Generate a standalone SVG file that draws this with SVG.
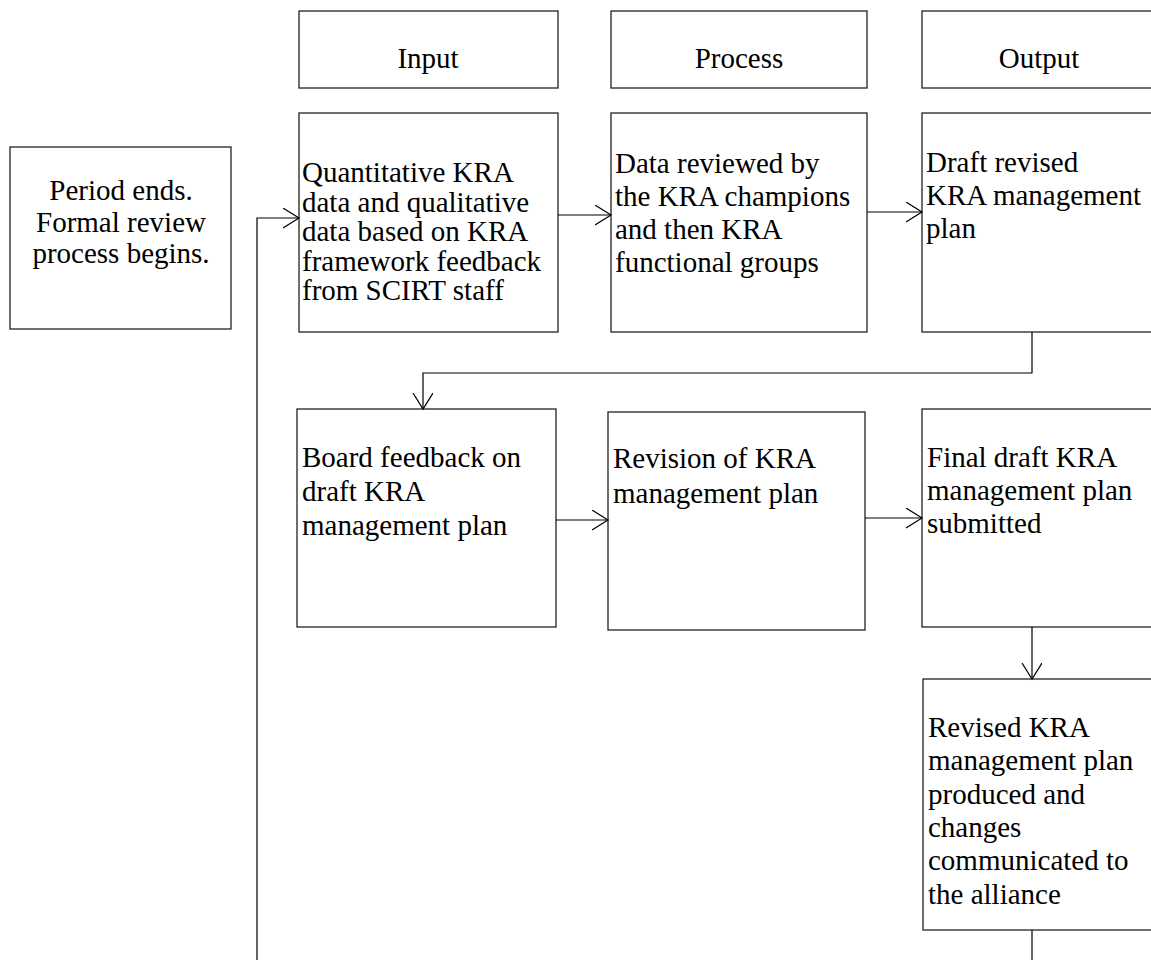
<svg xmlns="http://www.w3.org/2000/svg" width="1151" height="960" viewBox="0 0 1151 960">
  <style>
    .box { fill: #fff; stroke: #222; stroke-width: 1.3; }
    .lbl { font-family: "Liberation Serif", "Times New Roman", serif; font-size: 29px; fill: #000; }
    .mid { text-anchor: middle; }
    .wire { fill: none; stroke: #000; stroke-width: 1.2; }
  </style>
  <defs>
    <marker id="open" markerWidth="18" markerHeight="22" refX="16" refY="10" orient="auto" markerUnits="userSpaceOnUse">
      <path d="M0,0 L16,10 L0,20" fill="none" stroke="#000" stroke-width="1.2"/>
    </marker>
  </defs>

  <!-- column headers -->
  <g id="hdr-input">
    <rect class="box" x="299" y="11" width="259" height="77"/>
    <text class="lbl mid" x="428" y="68">Input</text>
  </g>
  <g id="hdr-process">
    <rect class="box" x="611" y="11" width="256" height="77"/>
    <text class="lbl mid" x="739" y="68">Process</text>
  </g>
  <g id="hdr-output">
    <rect class="box" x="922" y="11" width="234" height="77"/>
    <text class="lbl mid" x="1039" y="68">Output</text>
  </g>

  <!-- start -->
  <g id="period-ends">
    <rect class="box" x="10" y="147" width="221" height="182"/>
    <text class="lbl mid" x="121" y="200">Period ends.</text>
    <text class="lbl mid" x="121" y="232">Formal review</text>
    <text class="lbl mid" x="121" y="263">process begins.</text>
  </g>

  <!-- row 1 -->
  <g id="kra-data">
    <rect class="box" x="299" y="113" width="259" height="219"/>
    <text class="lbl" x="302" y="182">Quantitative KRA</text>
    <text class="lbl" x="302" y="211.5">data and qualitative</text>
    <text class="lbl" x="302" y="241">data based on KRA</text>
    <text class="lbl" x="302" y="270.5">framework feedback</text>
    <text class="lbl" x="302" y="300">from SCIRT staff</text>
  </g>
  <g id="data-reviewed">
    <rect class="box" x="611" y="113" width="256" height="219"/>
    <text class="lbl" x="615" y="173">Data reviewed by</text>
    <text class="lbl" x="615" y="206">the KRA champions</text>
    <text class="lbl" x="615" y="239">and then KRA</text>
    <text class="lbl" x="615" y="272">functional groups</text>
  </g>
  <g id="draft-revised">
    <rect class="box" x="922" y="113" width="240" height="219"/>
    <text class="lbl" x="926" y="172">Draft revised</text>
    <text class="lbl" x="926" y="205">KRA management</text>
    <text class="lbl" x="926" y="238">plan</text>
  </g>

  <!-- row 2 -->
  <g id="board-feedback">
    <rect class="box" x="297" y="409" width="259" height="218"/>
    <text class="lbl" x="302" y="467">Board feedback on</text>
    <text class="lbl" x="302" y="501">draft KRA</text>
    <text class="lbl" x="302" y="535">management plan</text>
  </g>
  <g id="revision">
    <rect class="box" x="608" y="412" width="257" height="218"/>
    <text class="lbl" x="613" y="468">Revision of KRA</text>
    <text class="lbl" x="613" y="503">management plan</text>
  </g>
  <g id="final-draft">
    <rect class="box" x="922" y="409" width="240" height="218"/>
    <text class="lbl" x="927" y="467">Final draft KRA</text>
    <text class="lbl" x="927" y="500">management plan</text>
    <text class="lbl" x="927" y="533">submitted</text>
  </g>

  <!-- row 3 -->
  <g id="revised-plan">
    <rect class="box" x="923" y="679" width="240" height="251"/>
    <text class="lbl" x="928" y="737">Revised KRA</text>
    <text class="lbl" x="928" y="770">management plan</text>
    <text class="lbl" x="928" y="804">produced and</text>
    <text class="lbl" x="928" y="837">changes</text>
    <text class="lbl" x="928" y="870">communicated to</text>
    <text class="lbl" x="928" y="904">the alliance</text>
  </g>

  <!-- connectors -->
  <g id="connectors">
    <path class="wire" d="M257,960 L257,218 L299,218" marker-end="url(#open)"/>
    <path class="wire" d="M558,215 L611,215" marker-end="url(#open)"/>
    <path class="wire" d="M867,212 L922,212" marker-end="url(#open)"/>
    <path class="wire" d="M1032,332 L1032,373 L423,373 L423,409" marker-end="url(#open)"/>
    <path class="wire" d="M556,520 L608,520" marker-end="url(#open)"/>
    <path class="wire" d="M865,518 L922,518" marker-end="url(#open)"/>
    <path class="wire" d="M1032,627 L1032,679" marker-end="url(#open)"/>
    <path class="wire" d="M1032,930 L1032,960"/>
  </g>
</svg>
